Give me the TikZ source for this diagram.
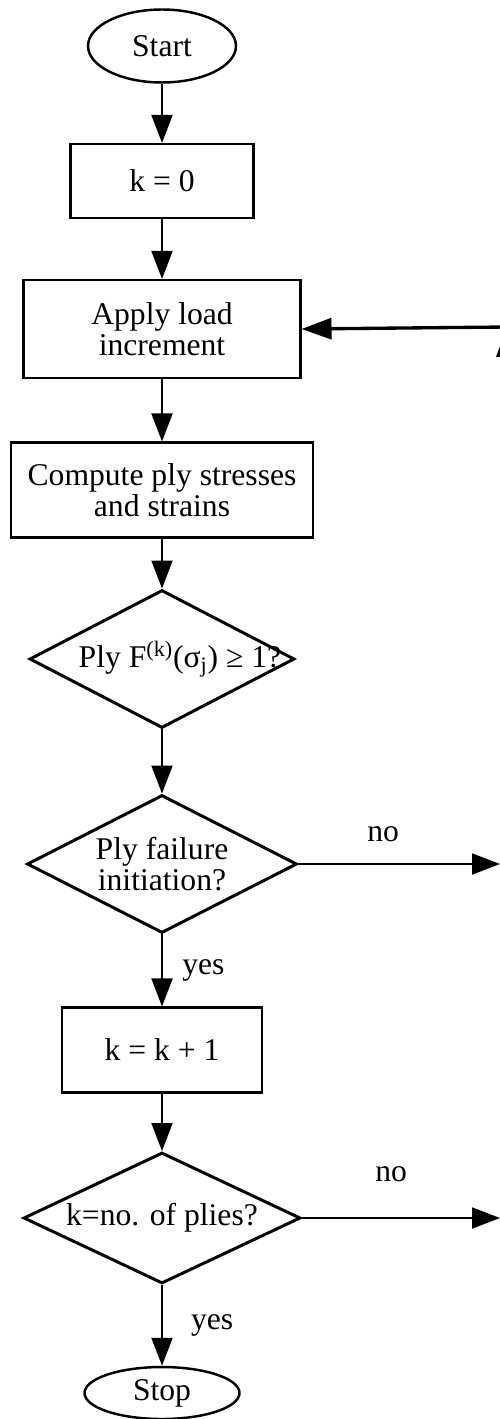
\documentclass[tikz,border=0pt]{standalone}
\usepackage{fontspec}
\setmainfont{Liberation Serif}
\usepackage{tikz}
\usetikzlibrary{arrows.meta,positioning,shapes.geometric}
\tikzset{
  flow font/.style={font=\fontsize{18}{17.5}\selectfont},
  flow box/.style={draw, line width=1.2pt, inner sep=0pt, align=center, flow font},
  flow oval/.style={draw, ellipse, line width=1.4pt, inner sep=0pt, flow font},
  flow diamond/.style={draw, diamond, shape aspect=2, line width=1.7pt, inner sep=0pt, align=center, flow font},
  flow edge/.style={-{Triangle[length=0.56cm, width=0.42cm]}, line width=1.1pt},
  flow edge thick/.style={-{Triangle[length=0.6cm, width=0.42cm]}, line width=1.9pt},
  flow label/.style={flow font, inner sep=0pt},
}
\begin{document}
\begin{tikzpicture}[x=0.02cm, y=-0.02cm]
  \useasboundingbox (0,0) rectangle (500,1419);
  \node[flow oval, minimum width=2.96cm, minimum height=1.46cm] (start) at (162,46) {Start};
  \node[flow box, minimum width=3.66cm, minimum height=1.48cm] (kzero) at (162,181) {k = 0};
  \node[flow box, minimum width=5.54cm, minimum height=1.96cm] (apply) at (162,329) {Apply load\\increment};
  \node[flow box, minimum width=6.04cm, minimum height=1.90cm] (compute) at (162,490) {Compute ply stresses\\and strains};
  \node[flow diamond, minimum width=5.30cm, minimum height=2.76cm] (crit) at (162,659) {\makebox[0pt]{\hspace{0.72cm}Ply F\textsuperscript{(k)}(σ\textsubscript{j}) ≥ 1?}};
  \node[flow diamond, minimum width=5.40cm, minimum height=2.76cm] (init) at (162,864) {Ply failure\\initiation?};
  \node[flow box, minimum width=4.0cm, minimum height=1.70cm] (kinc) at (162,1050) {k = k + 1};
  \node[flow diamond, minimum width=5.54cm, minimum height=2.62cm] (last) at (162,1218) {k=no. of plies?};
  \node[flow oval, minimum width=3.10cm, minimum height=1.04cm] (stop) at (162,1393) {Stop};
  \coordinate (noinit) at (500,864);
  \coordinate (nolast) at (500,1218);
  \coordinate (retlow) at (507,420);
  \coordinate (rettop) at (507,327);
  \draw[flow edge] (start) -- (kzero);
  \draw[flow edge] (kzero) -- (apply);
  \draw[flow edge] (apply) -- (compute);
  \draw[flow edge] (compute) -- (crit);
  \draw[flow edge] (crit) -- (init);
  \draw[flow edge] (init) -- node[flow label, midway, right=11pt] {yes} (kinc);
  \draw[flow edge] (kinc) -- (last);
  \draw[flow edge] (last) -- node[flow label, midway, right=16pt] {yes} (stop);
  \draw[flow edge] (init.east) -- node[flow label, pos=0.42, above=12pt] {no} (noinit);
  \draw[flow edge] (last.east) -- node[flow label, pos=0.45, above=20pt] {no} (nolast);
  \draw[flow edge thick] (retlow) -- (rettop);
  \draw[flow edge thick] (rettop) -- (apply.east);
\end{tikzpicture}
\end{document}
